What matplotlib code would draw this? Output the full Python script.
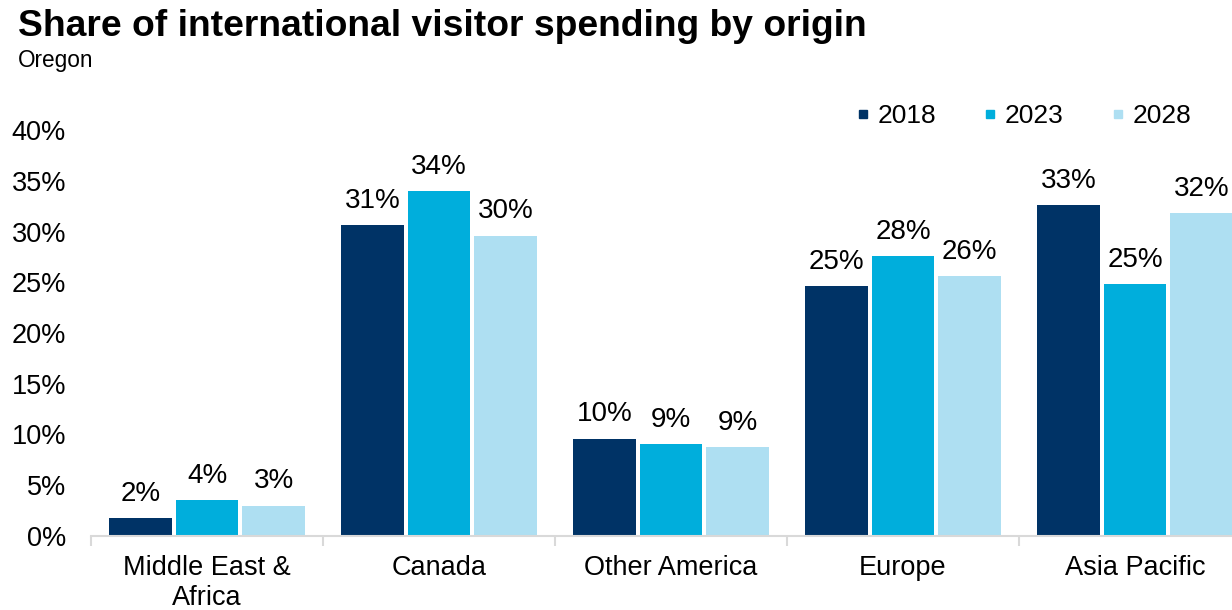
import matplotlib
matplotlib.use("Agg")
import matplotlib.pyplot as plt
import numpy as np
from matplotlib.lines import Line2D
from matplotlib.ticker import FixedLocator, FuncFormatter

plt.rcParams['font.family'] = ['Liberation Sans', 'DejaVu Sans']

# Data
categories = ["Middle East &\nAfrica", "Canada", "Other America", "Europe", "Asia Pacific"]
years = ["2018", "2023", "2028"]
share_2018 = [1.8, 30.6, 9.6, 24.6, 32.6]
share_2023 = [3.5, 34.0, 9.1, 27.6, 24.8]
share_2028 = [3.0, 29.6, 8.8, 25.6, 31.8]
y_ticks = [0, 5, 10, 15, 20, 25, 30, 35, 40]

series = [share_2018, share_2023, share_2028]
colors = ["#003366", "#00AEDC", "#AEDFF2"]

W, H = 1232, 610
fig = plt.figure(figsize=(W / 100, H / 100), dpi=100)
ax = fig.add_axes([91 / W, 1 - 536 / H, 1 - 91 / W, (536 - 130) / H])

x = np.arange(len(categories))
step = 0.287
bar_w = 0.27
for i, (vals, col) in enumerate(zip(series, colors)):
    pos = x + (i - 1) * step
    ax.bar(pos, vals, width=bar_w, color=col, zorder=2)
    for px, v in zip(pos, vals):
        ax.annotate(f"{v:.0f}%", (px, v), xytext=(0, 8), textcoords="offset points",
                    ha="center", va="bottom", fontsize=20, color="#000000",
                    annotation_clip=False)

ax.set_xlim(-0.5, -0.5 + (W - 91) / 232)
ax.set_ylim(0, 40)

# Axes styling
for s in ["top", "right", "left"]:
    ax.spines[s].set_visible(False)
ax.spines["bottom"].set_color("#D9D9D9")
ax.spines["bottom"].set_linewidth(1.5)

ax.set_xticks(x)
ax.set_xticklabels(categories, fontsize=19.5, linespacing=1.2)
ax.tick_params(axis="x", which="major", length=0, pad=14)
ax.xaxis.set_minor_locator(FixedLocator(np.arange(-0.5, len(categories), 1.0)))
ax.tick_params(axis="x", which="minor", length=7, width=1.5, color="#D9D9D9", direction="out")

ax.yaxis.set_major_locator(FixedLocator(y_ticks))
ax.yaxis.set_major_formatter(FuncFormatter(lambda v, _: f"{v:.0f}%"))
ax.tick_params(axis="y", length=0, pad=18, labelsize=19.5)

# Legend
handles = [Line2D([], [], marker="s", linestyle="none", markersize=6,
                  markerfacecolor=c, markeredgecolor=c) for c in colors]
fig.legend(handles, years, loc="center right", bbox_to_anchor=(1191 / W, 1 - 116 / H),
           ncol=3, frameon=False, fontsize=19, handlelength=0.4, handletextpad=0.35,
           columnspacing=1.85, borderaxespad=0, borderpad=0)

# Titles
fig.text(18 / W, 1 - 26 / H, "Share of international visitor spending by origin",
         fontsize=26.8, fontweight="bold", ha="left", va="center")
fig.text(18 / W, 1 - 61 / H, "Oregon", fontsize=16.3, ha="left", va="center")

fig.savefig("out.png", dpi=100)
